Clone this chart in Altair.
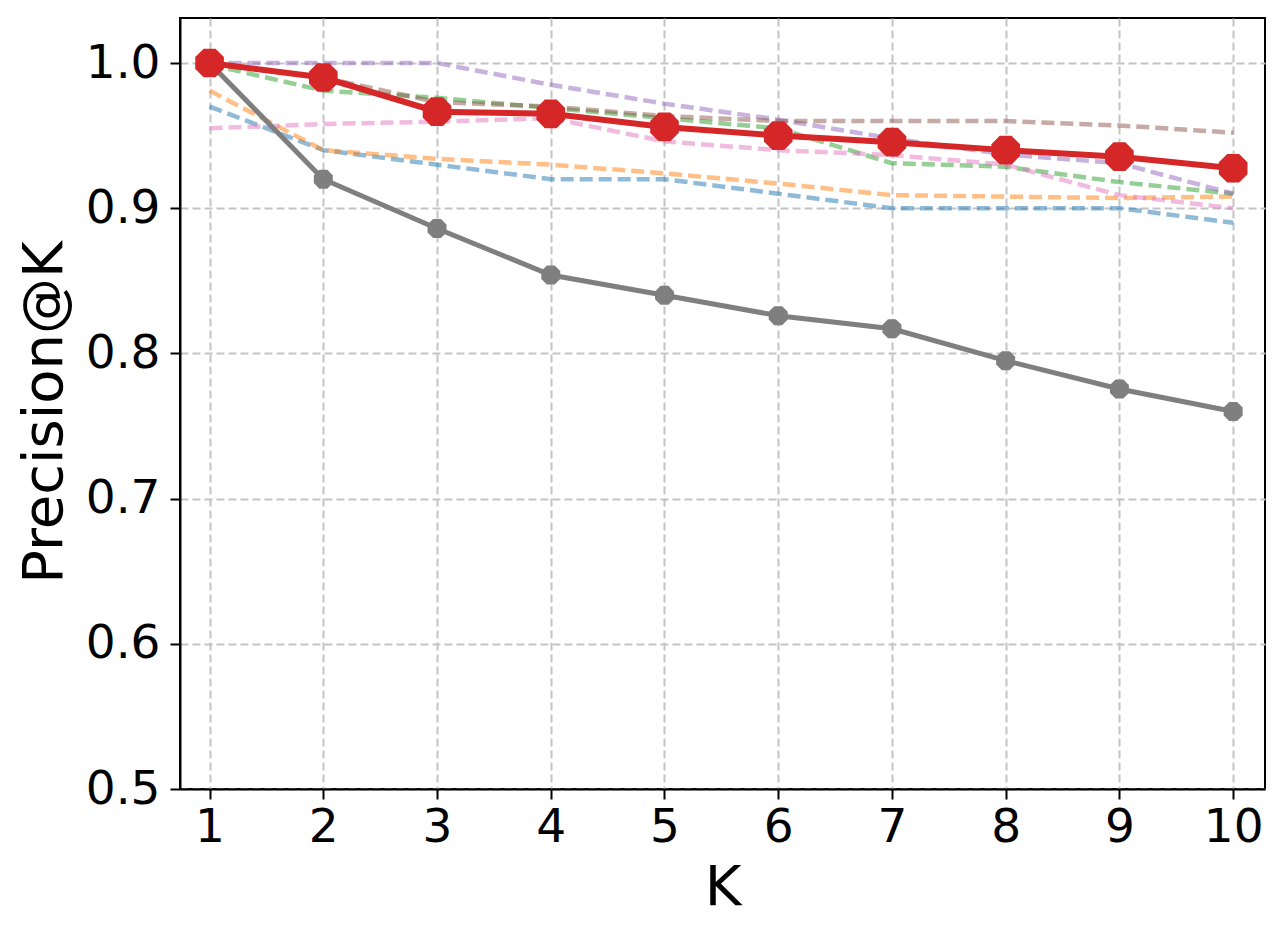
import altair as alt
import pandas as pd

K = [1, 2, 3, 4, 5, 6, 7, 8, 9, 10]
ours = [1.000, 0.990, 0.9665, 0.965, 0.956, 0.950, 0.9455, 0.940, 0.9355, 0.9275]
gray_vals = [1.000, 0.920, 0.886, 0.854, 0.840, 0.826, 0.817, 0.795, 0.7755, 0.760]
blue_vals = [0.970, 0.940, 0.930, 0.920, 0.920, 0.910, 0.900, 0.900, 0.900, 0.890]
orange_vals = [0.981, 0.940, 0.934, 0.930, 0.924, 0.917, 0.909, 0.908, 0.907, 0.908]
green_vals = [0.999, 0.981, 0.976, 0.969, 0.962, 0.955, 0.931, 0.9286, 0.918, 0.910]
purple_vals = [1.000, 1.000, 1.000, 0.985, 0.972, 0.961, 0.948, 0.937, 0.931, 0.910]
brown_vals = [1.000, 0.990, 0.973, 0.970, 0.9635, 0.960, 0.960, 0.960, 0.957, 0.952]
pink_vals = [0.955, 0.958, 0.9596, 0.962, 0.946, 0.940, 0.9366, 0.930, 0.909, 0.900]

dashed = [
    ("blue", "#1f77b4", blue_vals),
    ("orange", "#ff7f0e", orange_vals),
    ("green", "#2ca02c", green_vals),
    ("purple", "#9467bd", purple_vals),
    ("brown", "#8c564b", brown_vals),
    ("pink", "#e377c2", pink_vals),
]

FONT = "DejaVu Sans"
OCT = "M0.414,-1 L1,-0.414 L1,0.414 L0.414,1 L-0.414,1 L-1,0.414 L-1,-0.414 L-0.414,-1 Z"

xscale = alt.Scale(domain=[0.74, 10.28], nice=False, zero=False)
yscale = alt.Scale(domain=[0.5, 1.031], nice=False, zero=False)

xaxis = alt.Axis(values=K, format="d", title="K", titleFontSize=56, titleFont=FONT,
                 titleFontWeight="normal", titlePadding=10, labelFontSize=47, labelFont=FONT,
                 labelPadding=5, tickSize=10, tickWidth=2, tickColor="black",
                 domainColor="black", domainWidth=2, grid=True, gridColor="#c4c4c4",
                 gridDash=[8, 4], gridWidth=2, labelColor="black", titleColor="black")
yaxis = alt.Axis(values=[0.5, 0.6, 0.7, 0.8, 0.9, 1.0], format=".1f", title="Precision@K",
                 titleFontSize=56, titleFont=FONT, titleFontWeight="normal", titlePadding=12,
                 titleY=394, labelFontSize=47, labelFont=FONT, labelPadding=10, tickSize=10,
                 tickWidth=2, tickColor="black", domainColor="black", domainWidth=2, grid=True,
                 gridColor="#c4c4c4", gridDash=[8, 4], gridWidth=2, labelColor="black",
                 titleColor="black")

X = alt.X("K:Q", scale=xscale, axis=xaxis)
Y = alt.Y("v:Q", scale=yscale, axis=yaxis)

layers = []
for name, col, vals in dashed:
    df = pd.DataFrame({"K": K, "v": vals, "s": name})
    layers.append(
        alt.Chart(df).mark_line(color=col, strokeOpacity=0.5, strokeWidth=4.5,
                                strokeDash=[13, 6], clip=True).encode(x=X, y=Y)
    )

gdf = pd.DataFrame({"K": K, "v": gray_vals})
layers.append(alt.Chart(gdf).mark_line(color="#7f7f7f", strokeWidth=5).encode(x=X, y=Y))
layers.append(alt.Chart(gdf).mark_point(shape=OCT, size=360, filled=True, color="#7f7f7f",
                                        opacity=1).encode(x=X, y=Y))

rdf = pd.DataFrame({"K": K, "v": ours})
layers.append(alt.Chart(rdf).mark_line(color="#d62728", strokeWidth=6).encode(x=X, y=Y))
layers.append(alt.Chart(rdf).mark_point(shape=OCT, size=820, filled=True, color="#d62728",
                                        opacity=1).encode(x=X, y=Y))

chart = alt.layer(*layers).properties(
    width=1085, height=771,
    autosize=alt.AutoSizeParams(type="none"),
    padding={"left": 172, "top": 10, "right": 11, "bottom": 142},
    background="white",
).configure_view(stroke="black", strokeWidth=2)

chart.save("out.html", embed_options={"renderer": "svg", "actions": False})
